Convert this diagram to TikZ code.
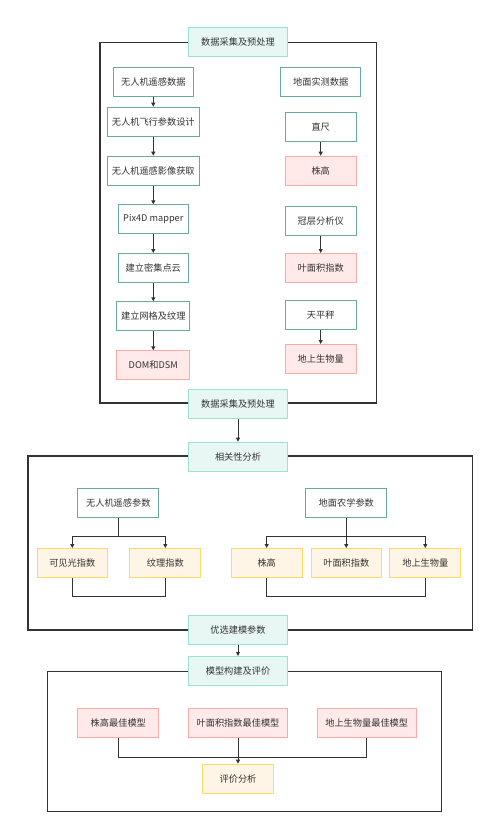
\documentclass[tikz,border=0pt]{standalone}
\usepackage{fontspec}
\newfontfamily\cjkfont{Noto Sans CJK SC}
\usetikzlibrary{arrows.meta}

\definecolor{headfill}{HTML}{E8F7F4}
\definecolor{headline}{HTML}{9AE3D4}
\definecolor{tealline}{HTML}{67AB9F}
\definecolor{pinkfill}{HTML}{FFE9E9}
\definecolor{pinkline}{HTML}{FFA8A8}
\definecolor{orgfill}{HTML}{FFF5E6}
\definecolor{orgline}{HTML}{FFD966}
\definecolor{wire}{HTML}{333333}

\def \boxH {29pt}

\tikzset{
  base/.style={draw, line width=1pt, minimum height=\boxH, inner sep=0pt,
    font=\cjkfont\fontsize{9.2}{11}\selectfont, text=black!80},
  headbox/.style={base, draw=headline, fill=headfill, minimum width=98.7pt},
  stepbox/.style={base, draw=tealline, fill=white},
  resbox/.style={base, draw=pinkline, fill=pinkfill},
  parbox/.style={base, draw=orgline, fill=orgfill},
  frame/.style={draw=wire, line width=1.2pt},
  link/.style={draw=wire, line width=0.9pt},
  arr/.style={link, -{Triangle[length=4pt,width=4pt]}}
}

\begin{document}
\begin{tikzpicture}[x=1pt, y=-1pt]
  \useasboundingbox (0,0) rectangle (500,839);

  % frames
  \draw[frame] (100,42.7) rectangle (376.7,403);
  \draw[frame] (28,456) rectangle (472.7,630);
  \draw[frame, line width=0.9pt] (47.3,671.3) rectangle (441.3,811.3);

  % data acquisition and preprocessing
  \node[headbox] (collect) at (238,42.3) {数据采集及预处理};

  \node[stepbox, minimum width=80pt] (uav) at (153.3,81.7) {无人机遥感数据};
  \node[stepbox, minimum width=92pt] (flight) at (153.3,121.7) {无人机飞行参数设计};
  \node[stepbox, minimum width=92pt] (image) at (153.3,170.7) {无人机遥感影像获取};
  \node[stepbox, minimum width=70pt] (pix) at (153.3,219.3) {Pix4D mapper};
  \node[stepbox, minimum width=70pt] (cloud) at (153.3,268) {建立密集点云};
  \node[stepbox, minimum width=73.3pt] (mesh) at (153.3,316.3) {建立网格及纹理};
  \node[resbox, minimum width=73.3pt] (dom) at (153.3,365.3) {DOM和DSM};

  \node[stepbox, minimum width=80pt] (field) at (320.7,81.7) {地面实测数据};
  \node[stepbox, minimum width=70.7pt] (ruler) at (320.7,127.3) {直尺};
  \node[resbox, minimum width=70.7pt] (height) at (320.7,170.7) {株高};
  \node[stepbox, minimum width=70.7pt] (canopy) at (320.7,221.3) {冠层分析仪};
  \node[resbox, minimum width=70.7pt] (lai) at (320.7,268) {叶面积指数};
  \node[stepbox, minimum width=70.7pt] (scale) at (320.7,314.7) {天平秤};
  \node[resbox, minimum width=70.7pt] (biomass) at (320.7,359) {地上生物量};

  \node[headbox] (collectb) at (238,403.7) {数据采集及预处理};

  \draw[arr] (uav) -- (flight);
  \draw[arr] (flight) -- (image);
  \draw[arr] (image) -- (pix);
  \draw[arr] (pix) -- (cloud);
  \draw[arr] (cloud) -- (mesh);
  \draw[arr] (mesh) -- (dom);
  \draw[arr] (ruler) -- (height);
  \draw[arr] (canopy) -- (lai);
  \draw[arr] (scale) -- (biomass);

  % correlation analysis
  \node[headbox] (corr) at (238,456.7) {相关性分析};
  \draw[arr] (collectb) -- (corr);

  \node[stepbox, minimum width=80.7pt] (rsp) at (118.3,503.3) {无人机遥感参数};
  \node[stepbox, minimum width=80.7pt] (agp) at (346.3,503.3) {地面农学参数};

  \node[parbox, minimum width=70pt] (vis) at (72.3,563) {可见光指数};
  \node[parbox, minimum width=70.7pt] (tex) at (165.3,563) {纹理指数};
  \node[parbox, minimum width=70.7pt] (ph) at (266.7,563) {株高};
  \node[parbox, minimum width=70pt] (plai) at (346.3,563) {叶面积指数};
  \node[parbox, minimum width=70.7pt] (pbio) at (425.3,563) {地上生物量};

  \coordinate (jl) at (118.3,536.7);
  \coordinate (jr) at (346.3,536.7);
  \coordinate (bl) at (118.3,596.7);
  \coordinate (br) at (346.3,596.7);

  \draw[link] (rsp) -- (jl);
  \draw[arr] (jl) -| (vis);
  \draw[arr] (jl) -| (tex);
  \draw[arr] (agp) -- (plai);
  \draw[arr] (jr) -| (ph);
  \draw[arr] (jr) -| (pbio);
  \draw[link] (vis.south) |- (bl) -| (tex.south);
  \draw[link] (ph.south) |- (br) -| (pbio.south);

  % modelling and evaluation
  \node[headbox] (select) at (238,630) {优选建模参数};
  \node[headbox] (model) at (238,671) {模型构建及评价};
  \draw[arr] (select) -- (model);

  \node[resbox, minimum width=80.7pt] (mh) at (118.3,723.3) {株高最佳模型};
  \node[resbox, minimum width=98.7pt] (ml) at (238,723.3) {叶面积指数最佳模型};
  \node[resbox, minimum width=98.7pt] (mb) at (366.7,723.3) {地上生物量最佳模型};
  \node[parbox, minimum width=70.7pt] (eval) at (238,778.7) {评价分析};

  \coordinate (mj) at (238,757.3);
  \draw[link] (mh.south) |- (mj);
  \draw[link] (mb.south) |- (mj);
  \draw[arr] (ml) -- (eval);
\end{tikzpicture}
\end{document}
